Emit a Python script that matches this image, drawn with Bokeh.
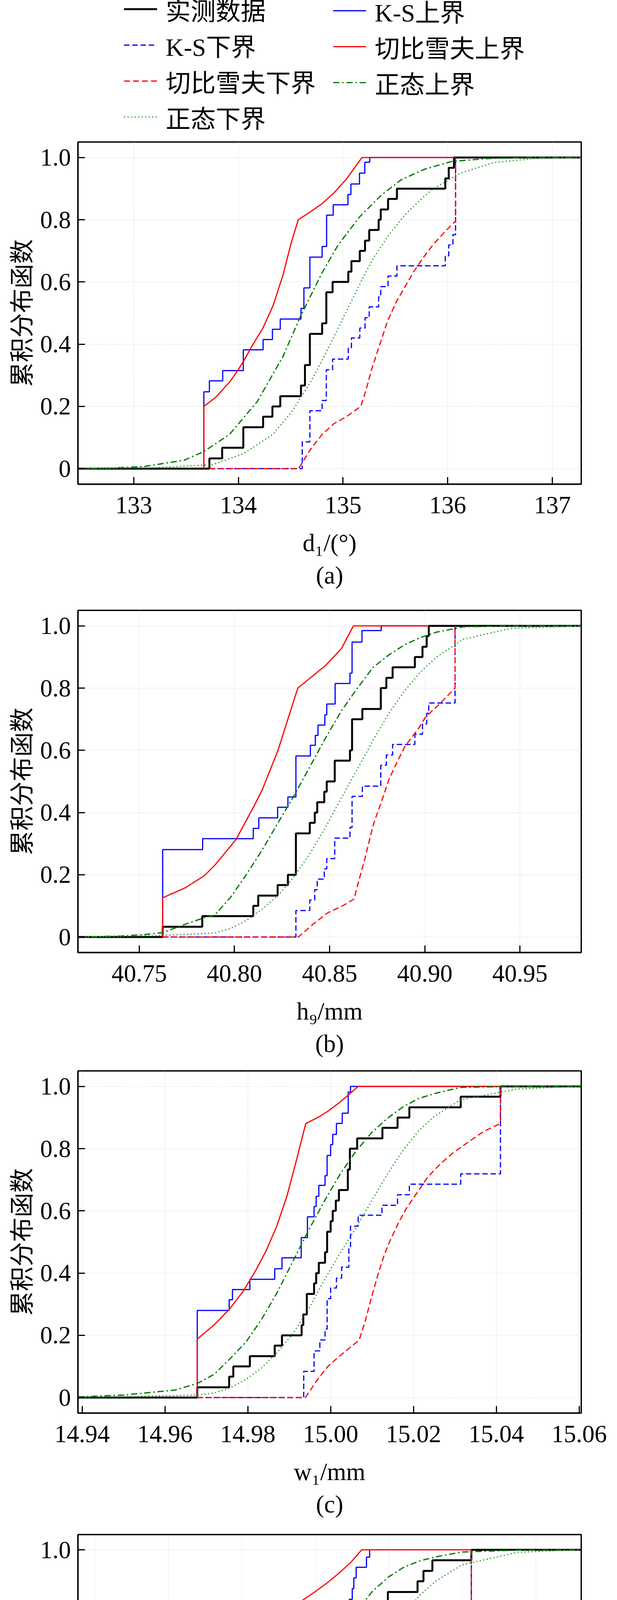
from bokeh.plotting import figure
from bokeh.layouts import column
from bokeh.models import Range1d, FixedTicker, Legend, LegendItem, Title
from bokeh.embed import file_html
from bokeh.resources import INLINE

# ---------------- data ----------------
Y_TICKS = [0, 0.2, 0.4, 0.6, 0.8, 1.0]
Y_TICK_LABELS = ["0", "0.2", "0.4", "0.6", "0.8", "1.0"]
Y_LABEL = "累积分布函数"
LEGEND_LABELS = ["实测数据", "K-S上界", "K-S下界", "切比雪夫上界", "切比雪夫下界", "正态上界", "正态下界"]

# panel (a)
A_XRANGE = [132.467, 137.276]
A_XTICKS = [133, 134, 135, 136, 137]
A_XTICK_LABELS = ["133", "134", "135", "136", "137"]
A_XLABEL = "d₁/(°)"
A_CAPTION = "(a)"
A_OBS_X = [132.467, 133.723, 133.845, 134.047, 134.236, 134.325, 134.40, 134.598, 134.636, 134.683, 134.80, 134.84, 134.90,
           135.05, 135.08, 135.16, 135.21, 135.25, 135.34, 135.36, 135.43, 135.515, 135.977, 136.01, 136.06, 137.276]
A_OBS_Y = [0, 0.033, 0.067, 0.133, 0.167, 0.2, 0.233, 0.267, 0.333, 0.433, 0.467, 0.567, 0.6,
           0.633, 0.667, 0.7, 0.733, 0.767, 0.8, 0.833, 0.867, 0.9, 0.933, 0.967, 1.0, 1.0]
A_KSU_X = [133.67, 133.67, 133.723, 133.85, 134.047, 134.236, 134.325, 134.40, 134.598, 134.626, 134.683, 134.80, 134.843,
           134.906, 135.047, 135.075, 135.157, 135.208, 135.255, 136.06]
A_KSU_Y = [0, 0.247, 0.282, 0.315, 0.382, 0.415, 0.448, 0.481, 0.515, 0.581, 0.68, 0.714, 0.815,
           0.848, 0.881, 0.915, 0.95, 0.985, 1.0, 1.0]
A_KSL_X = [133.723, 134.61, 134.683, 134.80, 134.84, 134.90, 135.05, 135.08, 135.16, 135.21, 135.25, 135.34, 135.36,
           135.43, 135.515, 135.977, 136.01, 136.05, 136.075]
A_KSL_Y = [0, 0.086, 0.186, 0.219, 0.318, 0.352, 0.387, 0.42, 0.452, 0.485, 0.52, 0.552, 0.585,
           0.619, 0.652, 0.684, 0.719, 0.752, 1.0]
A_CHU_X = [133.67, 133.67, 133.783, 133.915, 133.991, 134.047, 134.123, 134.236, 134.33, 134.425, 134.50, 134.572,
           134.708, 134.80, 134.915, 135.028, 135.104, 135.18, 136.06]
A_CHU_Y = [0, 0.2, 0.229, 0.278, 0.314, 0.344, 0.39, 0.453, 0.523, 0.621, 0.72, 0.8,
           0.83, 0.852, 0.887, 0.929, 0.964, 1.0, 1.0]
A_CHL_X = [133.723, 134.575, 134.689, 134.80, 134.915, 135.028, 135.17, 135.217, 135.274, 135.349, 135.425, 135.51,
           135.594, 135.679, 135.764, 135.858, 135.972, 136.075, 136.075]
A_CHL_Y = [0, 0, 0.062, 0.11, 0.145, 0.166, 0.2, 0.25, 0.32, 0.397, 0.474, 0.537,
           0.586, 0.635, 0.677, 0.719, 0.761, 0.796, 1.0]
A_NU_X = [132.467, 132.8, 133.1, 133.31, 133.481, 133.67, 133.915, 134.179, 134.425, 134.594, 134.80, 134.953, 135.16,
          135.368, 135.557, 135.783, 136.047, 136.4, 136.8, 137.276]
A_NU_Y = [0.0, 0.002, 0.007, 0.018, 0.027, 0.055, 0.11, 0.215, 0.36, 0.49, 0.63, 0.719, 0.81,
          0.88, 0.929, 0.963, 0.988, 0.997, 1.0, 1.0]
A_NL_X = [132.467, 133.2, 133.755, 134.047, 134.33, 134.519, 134.689, 134.80, 134.915, 135.047, 135.18, 135.29, 135.443,
          135.594, 135.745, 135.86, 136.123, 136.44, 136.8, 137.276]
A_NL_Y = [0.0, 0.003, 0.013, 0.048, 0.11, 0.187, 0.278, 0.348, 0.425, 0.516, 0.607, 0.677, 0.754,
          0.817, 0.866, 0.9, 0.95, 0.984, 0.996, 1.0]

# panel (b)
B_XRANGE = [40.7178, 40.9822]
B_XTICKS = [40.75, 40.80, 40.85, 40.90, 40.95]
B_XTICK_LABELS = ["40.75", "40.80", "40.85", "40.90", "40.95"]
B_XLABEL = "h₉/mm"
B_CAPTION = "(b)"
B_OBS_X = [40.7178, 40.7623, 40.7831, 40.8099, 40.8125, 40.8227, 40.8281, 40.8323, 40.8396, 40.8422, 40.8435, 40.8472,
           40.8485, 40.8527, 40.8607, 40.8618, 40.8672, 40.8769, 40.8798, 40.8831, 40.8948, 40.8988, 40.9010, 40.9021, 40.9822]
B_OBS_Y = [0, 0.033, 0.067, 0.1, 0.133, 0.167, 0.2, 0.333, 0.367, 0.4, 0.433, 0.467,
           0.5, 0.567, 0.6, 0.7, 0.733, 0.8, 0.833, 0.867, 0.9, 0.933, 0.967, 1.0, 1.0]
B_KSU_X = [40.7623, 40.7623, 40.7833, 40.8099, 40.8128, 40.8227, 40.8281, 40.8323, 40.8399, 40.8425, 40.8439, 40.8475,
           40.8485, 40.8529, 40.8607, 40.8618, 40.8670, 40.8771, 40.9021]
B_KSU_Y = [0, 0.281, 0.316, 0.349, 0.383, 0.417, 0.45, 0.582, 0.616, 0.648, 0.681, 0.714,
           0.749, 0.815, 0.848, 0.948, 0.985, 1.0, 1.0]
B_KSL_X = [40.7623, 40.8323, 40.8396, 40.8422, 40.8435, 40.8472, 40.8485, 40.8527, 40.8607, 40.8618, 40.8672, 40.8769,
           40.8798, 40.8831, 40.8948, 40.8988, 40.9010, 40.9021, 40.9159]
B_KSL_Y = [0, 0.085, 0.119, 0.152, 0.186, 0.219, 0.252, 0.318, 0.352, 0.452, 0.485, 0.552,
           0.585, 0.619, 0.652, 0.685, 0.719, 0.752, 1.0]
B_CHU_X = [40.7623, 40.7623, 40.7738, 40.7842, 40.7896, 40.8008, 40.8102, 40.8146, 40.8206, 40.8229, 40.8258, 40.830,
           40.8333, 40.8415, 40.8479, 40.8562, 40.8625, 40.9021]
B_CHU_Y = [0, 0.126, 0.157, 0.197, 0.23, 0.313, 0.42, 0.473, 0.565, 0.6, 0.656, 0.737,
           0.8, 0.841, 0.873, 0.927, 1.0, 1.0]
B_CHL_X = [40.7623, 40.8336, 40.8415, 40.8488, 40.8571, 40.8628, 40.8654, 40.8685, 40.8729, 40.8779, 40.8812, 40.8863,
           40.8896, 40.8967, 40.9004, 40.9071, 40.9159, 40.9159]
B_CHL_Y = [0, 0, 0.042, 0.077, 0.101, 0.122, 0.182, 0.251, 0.36, 0.447, 0.507, 0.573,
           0.613, 0.67, 0.707, 0.745, 0.8, 1.0]
B_NU_X = [40.7178, 40.7400, 40.7529, 40.7623, 40.7738, 40.7842, 40.7896, 40.7979, 40.8062, 40.8146, 40.8229, 40.8312,
          40.8396, 40.8479, 40.8562, 40.8646, 40.8729, 40.8812, 40.8896, 40.8979, 40.9062, 40.9202, 40.945, 40.9822]
B_NU_Y = [0, 0.003, 0.008, 0.014, 0.04, 0.062, 0.07, 0.127, 0.2, 0.28, 0.367, 0.453,
          0.547, 0.64, 0.727, 0.8, 0.867, 0.907, 0.94, 0.963, 0.98, 0.997, 1.0, 1.0]
B_NL_X = [40.7178, 40.7623, 40.7842, 40.7896, 40.7979, 40.8062, 40.8146, 40.8229, 40.8312, 40.8396, 40.8479, 40.8562,
          40.8646, 40.8729, 40.8812, 40.8896, 40.8979, 40.9062, 40.9202, 40.945, 40.9822]
B_NL_Y = [0, 0.005, 0.011, 0.013, 0.027, 0.053, 0.09, 0.133, 0.193, 0.267, 0.353, 0.447,
          0.54, 0.633, 0.72, 0.793, 0.853, 0.9, 0.957, 0.992, 1.0]

# panel (c)
C_XRANGE = [14.939, 15.0605]
C_XTICKS = [14.94, 14.96, 14.98, 15.00, 15.02, 15.04, 15.06]
C_XTICK_LABELS = ["14.94", "14.96", "14.98", "15.00", "15.02", "15.04", "15.06"]
C_XLABEL = "w₁/mm"
C_CAPTION = "(c)"
C_OBS_X = [14.939, 14.9678, 14.9755, 14.9765, 14.9805, 14.9865, 14.98825, 14.993, 14.9934, 14.99425, 14.996, 14.9965,
           14.99715, 14.99865, 14.99915, 15.0000, 15.0005, 15.00125, 15.002, 15.00415, 15.00465, 15.0064, 15.0125,
           15.01615, 15.019, 15.0314, 15.041, 15.0605]
C_OBS_Y = [0, 0.033, 0.067, 0.1, 0.133, 0.167, 0.2, 0.233, 0.267, 0.333, 0.367, 0.4,
           0.433, 0.467, 0.533, 0.567, 0.6, 0.633, 0.667, 0.733, 0.8, 0.833, 0.867,
           0.9, 0.933, 0.967, 1.0, 1.0]
C_KSU_X = [14.9678, 14.9678, 14.9755, 14.9763, 14.9805, 14.9865, 14.98825, 14.9929, 14.9944, 14.996, 14.9965, 14.99715,
           14.99865, 14.99915, 15.0, 15.0005, 15.0014, 15.0028, 15.00425, 15.0048, 15.041]
C_KSU_Y = [0, 0.28, 0.314, 0.347, 0.38, 0.414, 0.449, 0.514, 0.581, 0.614, 0.647, 0.682,
           0.713, 0.778, 0.813, 0.846, 0.881, 0.914, 0.982, 1.0, 1.0]
C_KSL_X = [14.9678, 14.9935, 14.996, 14.9974, 14.99865, 14.99915, 15.0, 15.0014, 15.00265, 15.0044, 15.0048, 15.00665,
           15.0124, 15.01615, 15.019, 15.0314, 15.041]
C_KSL_Y = [0, 0.084, 0.15, 0.185, 0.22, 0.318, 0.352, 0.384, 0.419, 0.485, 0.551, 0.586,
           0.618, 0.652, 0.686, 0.719, 1.0]
C_CHU_X = [14.9678, 14.9678, 14.9719, 14.9755, 14.9789, 14.9819, 14.9844, 14.9869, 14.9894, 14.9919, 14.994, 14.9969,
           14.9994, 15.0019, 15.0044, 15.00665, 15.041]
C_CHU_Y = [0, 0.188, 0.234, 0.283, 0.342, 0.408, 0.471, 0.548, 0.645, 0.771, 0.881, 0.9,
           0.921, 0.946, 0.974, 1.0, 1.0]
C_CHL_X = [14.9678, 14.9939, 14.9969, 14.9994, 15.0024, 15.0069, 15.0084, 15.0099, 15.0114, 15.0129, 15.0144, 15.0164,
           15.0184, 15.0209, 15.0234, 15.0264, 15.0294, 15.0334, 15.0369, 15.041, 15.041]
C_CHL_Y = [0, 0, 0.059, 0.101, 0.136, 0.185, 0.248, 0.324, 0.394, 0.457, 0.506, 0.562,
           0.611, 0.659, 0.708, 0.75, 0.785, 0.823, 0.855, 0.881, 1.0]
C_NU_X = [14.939, 14.950, 14.9624, 14.9678, 14.97194, 14.97573, 14.97953, 14.98332, 14.98711, 14.9909, 14.99469,
          14.99848, 15.00227, 15.00607, 15.00986, 15.01365, 15.01744, 15.02123, 15.02502, 15.03139, 15.045, 15.0605]
C_NU_Y = [0.002, 0.008, 0.024, 0.045, 0.075, 0.125, 0.178, 0.251, 0.338, 0.438, 0.538,
          0.631, 0.718, 0.791, 0.851, 0.897, 0.934, 0.961, 0.977, 0.997, 1.0, 1.0]
C_NL_X = [14.939, 14.9678, 14.97194, 14.97573, 14.97953, 14.98332, 14.98711, 14.9909, 14.99469, 14.99848, 15.00227,
          15.00607, 15.00986, 15.01365, 15.01744, 15.02123, 15.02502, 15.03139, 15.045, 15.0605]
C_NL_Y = [0, 0.008, 0.015, 0.031, 0.058, 0.095, 0.145, 0.205, 0.284, 0.378, 0.464,
          0.544, 0.631, 0.717, 0.794, 0.857, 0.904, 0.957, 0.992, 1.0]

# panel (d)
D_XRANGE = [3.11544, 3.25231]
D_XTICKS = [3.12, 3.14, 3.16, 3.18, 3.20, 3.22, 3.24]
D_XTICK_LABELS = ["3.12", "3.14", "3.16", "3.18", "3.20", "3.22", "3.24"]
D_XLABEL = "w₃/mm"
D_CAPTION = "(d)"
D_OBS_X = [3.11544, 3.15925, 3.16016, 3.1626, 3.1641, 3.16554, 3.1685, 3.16958, 3.17065, 3.17308, 3.17657, 3.17776,
           3.18088, 3.18723, 3.18777, 3.18895, 3.19003, 3.19046, 3.191, 3.1938, 3.1946, 3.19514, 3.19918, 3.19971,
           3.20779, 3.2094, 3.21182, 3.22242, 3.25231]
D_OBS_Y = [0, 0.035, 0.069, 0.103, 0.138, 0.207, 0.241, 0.276, 0.345, 0.379, 0.414, 0.448,
           0.483, 0.517, 0.552, 0.586, 0.621, 0.655, 0.69, 0.724, 0.759, 0.793, 0.828, 0.862,
           0.897, 0.931, 0.966, 1.0, 1.0]
D_KSU_X = [3.14978, 3.14978, 3.15925, 3.16016, 3.16285, 3.1642, 3.16554, 3.16839, 3.16958, 3.17065, 3.17103, 3.17308,
           3.17668, 3.17776, 3.18088, 3.18723, 3.18777, 3.18922, 3.19003, 3.19046, 3.1911, 3.1939, 3.19476, 3.22242]
D_KSU_Y = [0, 0.252, 0.287, 0.32, 0.357, 0.39, 0.46, 0.495, 0.529, 0.562, 0.597, 0.631,
           0.666, 0.701, 0.734, 0.769, 0.804, 0.838, 0.873, 0.908, 0.943, 0.976, 1.0, 1.0]
D_KSL_X = [3.15925, 3.16958, 3.17065, 3.17308, 3.17657, 3.17776, 3.18088, 3.18723, 3.18777, 3.18895, 3.19003, 3.19046,
           3.191, 3.1938, 3.1946, 3.19514, 3.19918, 3.19971, 3.20779, 3.2094, 3.21182, 3.22242]
D_KSL_Y = [0, 0.027, 0.097, 0.131, 0.166, 0.2, 0.235, 0.269, 0.304, 0.338, 0.373, 0.407,
           0.442, 0.476, 0.511, 0.545, 0.58, 0.614, 0.649, 0.683, 0.718, 1.0]
D_CHU_X = [3.14978, 3.14978, 3.15397, 3.15774, 3.16043, 3.16312, 3.16581, 3.1685, 3.17119, 3.17388, 3.17641, 3.1798,
           3.18303, 3.18626, 3.18949, 3.19261, 3.22242]
D_CHU_Y = [0, 0.2, 0.243, 0.296, 0.338, 0.39, 0.457, 0.537, 0.628, 0.733, 0.834, 0.862,
           0.89, 0.922, 0.957, 1.0, 1.0]
D_CHL_X = [3.15925, 3.17657, 3.17926, 3.18195, 3.18518, 3.18895, 3.19261, 3.19433, 3.19594, 3.19756, 3.19918, 3.20133,
           3.20348, 3.20617, 3.20886, 3.21209, 3.21532, 3.21855, 3.22242, 3.22242]
D_CHL_Y = [0, 0, 0.048, 0.09, 0.131, 0.166, 0.2, 0.271, 0.348, 0.411, 0.46, 0.523,
           0.572, 0.621, 0.663, 0.712, 0.754, 0.789, 0.831, 1.0]
D_NU_X = [3.11544, 3.125, 3.133, 3.139, 3.14429, 3.14967, 3.15266, 3.15695, 3.16124, 3.16554, 3.17069, 3.17412,
          3.17841, 3.1827, 3.187, 3.19129, 3.19558, 3.19987, 3.20416, 3.20845, 3.21275, 3.21996, 3.235, 3.25231]
D_NU_Y = [0, 0.001, 0.005, 0.013, 0.027, 0.051, 0.074, 0.114, 0.173, 0.246, 0.351, 0.43,
          0.529, 0.621, 0.72, 0.799, 0.865, 0.911, 0.944, 0.964, 0.977, 0.993, 0.999, 1.0]
D_NL_X = [3.11544, 3.14429, 3.14967, 3.15266, 3.15695, 3.16124, 3.16554, 3.16983, 3.17412, 3.17841, 3.1827, 3.187,
          3.19129, 3.19558, 3.19987, 3.20416, 3.20845, 3.21275, 3.21996, 3.235, 3.25231]
D_NL_Y = [0, 0.003, 0.009, 0.015, 0.035, 0.061, 0.1, 0.147, 0.206, 0.279, 0.364, 0.457,
          0.549, 0.634, 0.72, 0.793, 0.852, 0.898, 0.951, 0.992, 1.0]

# ---------------- styles ----------------
SERIF = "'Liberation Serif', 'Times New Roman', serif"
CJK = "'Noto Sans CJK SC', sans-serif"
MIX = "'Liberation Serif', 'Noto Sans CJK SC', serif"
STYLES = [
    dict(line_color="#000000", line_width=5.0, line_dash="solid"),          # observed
    dict(line_color="#0000ff", line_width=3.0, line_dash="solid"),          # K-S upper
    dict(line_color="#0000ff", line_width=3.0, line_dash="14 7"),           # K-S lower
    dict(line_color="#ff0000", line_width=3.0, line_dash="solid"),          # Chebyshev upper
    dict(line_color="#ff0000", line_width=3.0, line_dash="15 8"),           # Chebyshev lower
    dict(line_color="#007a00", line_width=3.2, line_dash="16 7 4 7"),       # normal upper
    dict(line_color="#2f9f2f", line_width=3.2, line_dash="3 6"),            # normal lower
]
FIG_W = 1563
BORDER_L = 199
BORDER_R = 76
TICK_FS = "63px"
LABEL_FS = "63px"


def make_panel(xr, xticks, xtick_labels, xlabel, caption, series, height, top, bottom):
    p = figure(width=FIG_W, height=height, x_range=Range1d(*xr), y_range=Range1d(-0.05, 1.05),
               output_backend="svg", toolbar_location=None)
    p.min_border_left = BORDER_L
    p.min_border_right = BORDER_R
    p.min_border_top = top
    p.min_border_bottom = bottom
    p.background_fill_color = "white"
    p.border_fill_color = "white"
    p.outline_line_color = "black"
    p.outline_line_width = 3.5

    xt = FixedTicker(ticks=xticks)
    yt = FixedTicker(ticks=Y_TICKS)
    p.xaxis.ticker = xt
    p.yaxis.ticker = yt
    p.xgrid.ticker = xt
    p.ygrid.ticker = yt
    p.xaxis.major_label_overrides = dict(zip(xticks, xtick_labels))
    p.yaxis.major_label_overrides = dict(zip(Y_TICKS, Y_TICK_LABELS))
    for ax in (p.xaxis[0], p.yaxis[0]):
        ax.major_tick_in = 18
        ax.major_tick_out = 0
        ax.minor_tick_line_color = None
        ax.major_tick_line_width = 3
        ax.major_tick_line_color = "black"
        ax.axis_line_width = 3.5
        ax.axis_line_color = "black"
        ax.major_label_text_font = SERIF
        ax.major_label_text_font_size = TICK_FS
        ax.major_label_text_color = "black"
        ax.axis_label_text_font_style = "normal"
        ax.axis_label_text_font_size = LABEL_FS
        ax.axis_label_text_color = "black"
    p.xaxis.major_label_standoff = 32
    p.yaxis.major_label_standoff = 18
    p.xaxis.axis_label = xlabel
    p.xaxis.axis_label_text_font = SERIF
    p.xaxis.axis_label_standoff = 38
    p.yaxis.axis_label = Y_LABEL
    p.yaxis.axis_label_text_font = CJK
    p.yaxis.axis_label_standoff = 4

    for g in (p.xgrid[0], p.ygrid[0]):
        g.grid_line_color = "#d4d4d4"
        g.grid_line_dash = "2 3"
        g.grid_line_width = 1.5

    obs, ksu, ksl, chu, chl, nu, nl = series
    p.step(x=obs[0], y=obs[1], mode="after", **STYLES[0])
    p.step(x=ksu[0], y=ksu[1], mode="after", **STYLES[1])
    p.step(x=ksl[0], y=ksl[1], mode="after", **STYLES[2])
    p.line(x=chu[0], y=chu[1], **STYLES[3])
    p.line(x=chl[0], y=chl[1], **STYLES[4])
    p.line(x=nu[0], y=nu[1], **STYLES[5])
    p.line(x=nl[0], y=nl[1], **STYLES[6])

    t = Title(text=caption, align="center", text_font=SERIF, text_font_size=LABEL_FS,
              text_font_style="normal", text_color="black", standoff=16)
    p.add_layout(t, "below")
    return p


# legend strip on top (its sample lines lie outside the visible range; only the legend shows)
LEG_H = 343
lf = figure(width=FIG_W, height=LEG_H, x_range=Range1d(0, 1), y_range=Range1d(0, 1),
            output_backend="svg", toolbar_location=None, x_axis_type=None, y_axis_type=None)
lf.min_border_left = BORDER_L
lf.min_border_right = BORDER_R
lf.min_border_top = 0
lf.min_border_bottom = 0
lf.outline_line_color = None
lf.background_fill_color = "white"
lf.border_fill_color = "white"
HIDDEN_X = [-5, -4]
HIDDEN_Y = [-5, -4]
leg_renderers = [lf.line(x=HIDDEN_X, y=HIDDEN_Y, **st) for st in STYLES]

LEFT_IDX = [0, 2, 4, 6]
RIGHT_IDX = [1, 3, 5]
ITEM_H = 88


def make_legend(idx, loc):
    return Legend(items=[LegendItem(label=LEGEND_LABELS[i], renderers=[leg_renderers[i]]) for i in idx],
                  location=loc, orientation="vertical", glyph_width=85, glyph_height=ITEM_H,
                  label_height=ITEM_H, label_width=10, label_standoff=22, spacing=0, padding=0, margin=0,
                  border_line_color=None, background_fill_alpha=0,
                  label_text_font=MIX, label_text_font_size="64px", label_text_color="black")


lf.add_layout(make_legend(LEFT_IDX, (118, -2)))
lf.add_layout(make_legend(RIGHT_IDX, (653, -2 + ITEM_H)))

pa = make_panel(A_XRANGE, A_XTICKS, A_XTICK_LABELS, A_XLABEL, A_CAPTION,
                [(A_OBS_X, A_OBS_Y), (A_KSU_X, A_KSU_Y), (A_KSL_X, A_KSL_Y), (A_CHU_X, A_CHU_Y),
                 (A_CHL_X, A_CHL_Y), (A_NU_X, A_NU_Y), (A_NL_X, A_NL_Y)], 1199, 20, 303)
pb = make_panel(B_XRANGE, B_XTICKS, B_XTICK_LABELS, B_XLABEL, B_CAPTION,
                [(B_OBS_X, B_OBS_Y), (B_KSU_X, B_KSU_Y), (B_KSL_X, B_KSL_Y), (B_CHU_X, B_CHU_Y),
                 (B_CHL_X, B_CHL_Y), (B_NU_X, B_NU_Y), (B_NL_X, B_NL_Y)], 1179, 20, 283)
pc = make_panel(C_XRANGE, C_XTICKS, C_XTICK_LABELS, C_XLABEL, C_CAPTION,
                [(C_OBS_X, C_OBS_Y), (C_KSU_X, C_KSU_Y), (C_KSL_X, C_KSL_Y), (C_CHU_X, C_CHU_Y),
                 (C_CHL_X, C_CHL_Y), (C_NU_X, C_NU_Y), (C_NL_X, C_NL_Y)], 1187, 20, 291)
pd_ = make_panel(D_XRANGE, D_XTICKS, D_XTICK_LABELS, D_XLABEL, D_CAPTION,
                 [(D_OBS_X, D_OBS_Y), (D_KSU_X, D_KSU_Y), (D_KSL_X, D_KSL_Y), (D_CHU_X, D_CHU_Y),
                  (D_CHL_X, D_CHL_Y), (D_NU_X, D_NU_Y), (D_NL_X, D_NL_Y)], 1156, 20, 260)

layout = column(lf, pa, pb, pc, pd_, spacing=0)
open("out.html", "w").write(file_html(layout, INLINE))
